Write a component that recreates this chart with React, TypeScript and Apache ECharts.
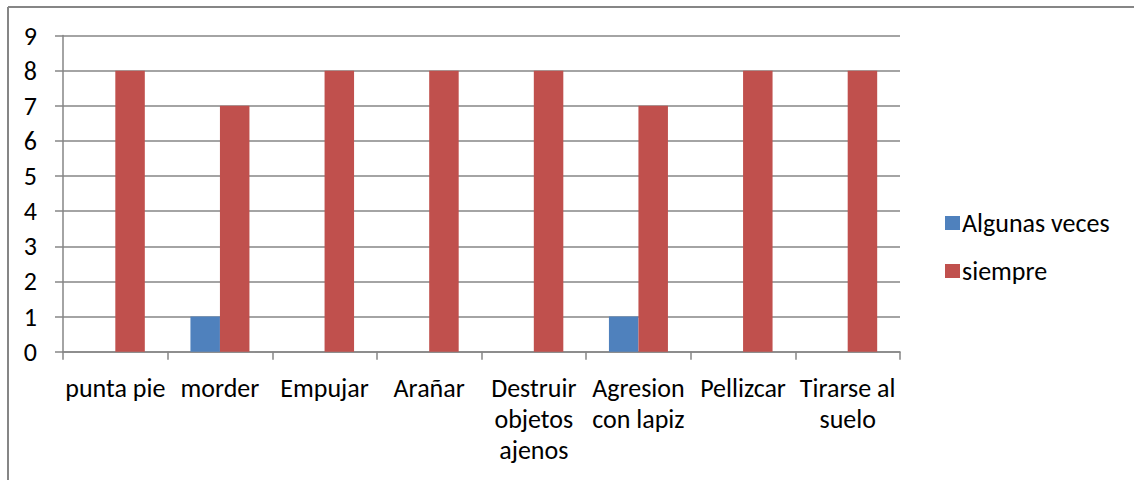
import React, { useEffect, useRef } from "react";
import * as echarts from "echarts";

const categories = [
  "punta pie",
  "morder",
  "Empujar",
  "Arañar",
  "Destruir\nobjetos\najenos",
  "Agresion\ncon lapiz",
  "Pellizcar",
  "Tirarse al\nsuelo",
];
const algunasVeces = [0, 1, 0, 0, 0, 1, 0, 0];
const siempre = [8, 7, 8, 8, 8, 7, 8, 8];
const yTicks = { min: 0, max: 9, interval: 1 };

const FONT = "Carlito, Lato, sans-serif";
const FS = 26;

export default function App() {
  const ref = useRef<HTMLDivElement>(null);
  useEffect(() => {
    if (!ref.current) return;
    const chart = echarts.init(ref.current, undefined, { renderer: "svg" });
    chart.setOption({
      animation: false,
      backgroundColor: "#ffffff",
      textStyle: { fontFamily: FONT, color: "#000" },
      graphic: [
        { type: "line", shape: { x1: 8, y1: 7, x2: 1134, y2: 7 }, style: { stroke: "#868686", lineWidth: 2 } },
        { type: "line", shape: { x1: 8, y1: 7, x2: 8, y2: 480 }, style: { stroke: "#868686", lineWidth: 2 } },
      ],
      grid: { left: 63, right: 234, top: 35.5, bottom: 128.3, containLabel: false },
      legend: {
        orient: "vertical",
        left: 940,
        top: 205,
        itemWidth: 15,
        itemHeight: 14,
        itemGap: 22,
        icon: "rect",
        textStyle: { fontFamily: FONT, fontSize: FS, lineHeight: 26, color: "#000", padding: [0, 0, 0, -3] },
        data: ["Algunas veces", "siempre"],
      },
      xAxis: {
        type: "category",
        data: categories,
        axisLine: { lineStyle: { color: "#868686", width: 1.5 } },
        axisTick: { show: true, length: 8, alignWithLabel: false, lineStyle: { color: "#868686", width: 1.5 } },
        axisLabel: {
          interval: 0,
          margin: 21,
          fontFamily: FONT,
          fontSize: FS,
          lineHeight: 31,
          color: "#000",
        },
      },
      yAxis: {
        type: "value",
        min: yTicks.min,
        max: yTicks.max,
        interval: yTicks.interval,
        axisLine: { show: true, lineStyle: { color: "#868686", width: 1.5 } },
        axisTick: { show: true, length: 8, lineStyle: { color: "#868686", width: 1.5 } },
        splitLine: { lineStyle: { color: "#868686", width: 1.5 } },
        axisLabel: { margin: 26, fontFamily: FONT, fontSize: FS, color: "#000" },
      },
      series: [
        {
          name: "Algunas veces",
          type: "bar",
          data: algunasVeces,
          barWidth: 29.5,
          barGap: "0%",
          itemStyle: { color: "#4F81BD" },
        },
        {
          name: "siempre",
          type: "bar",
          data: siempre,
          barWidth: 29.5,
          barGap: "0%",
          itemStyle: { color: "#C0504D" },
        },
      ],
    });
    return () => chart.dispose();
  }, []);
  return (
    <div
      ref={ref}
      style={{ position: "absolute", left: 0, top: 0, width: 1134, height: 480 }}
    />
  );
}
